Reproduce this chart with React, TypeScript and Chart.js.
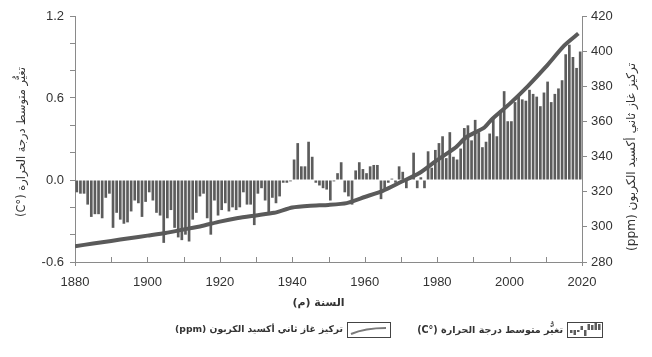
import { useEffect, useRef } from 'react';
import { Chart, registerables } from 'chart.js';

Chart.register(...registerables);

// ---------- data ----------
const firstYear = 1880;
// Global mean temperature change (°C), one value per year 1880–2019
const tempAnomaly = [
  -0.09, -0.10, -0.10, -0.18, -0.27, -0.25, -0.25, -0.28, -0.13, -0.10,
  -0.35, -0.24, -0.29, -0.32, -0.31, -0.23, -0.15, -0.17, -0.27, -0.16,
  -0.09, -0.15, -0.24, -0.26, -0.46, -0.28, -0.22, -0.35, -0.42, -0.44,
  -0.40, -0.45, -0.29, -0.24, -0.12, -0.10, -0.28, -0.40, -0.15, -0.26,
  -0.22, -0.17, -0.23, -0.20, -0.22, -0.20, -0.09, -0.18, -0.18, -0.33,
  -0.10, -0.06, -0.15, -0.24, -0.13, -0.17, -0.12, -0.02, -0.02, -0.01,
  0.15, 0.27, 0.10, 0.10, 0.28, 0.17, -0.02, -0.04, -0.06, -0.07,
  -0.15, -0.01, 0.05, 0.13, -0.09, -0.12, -0.18, 0.07, 0.13, 0.08,
  0.05, 0.10, 0.11, 0.11, -0.14, -0.07, -0.02, 0.01, -0.02, 0.10,
  0.06, -0.06, 0.02, 0.20, -0.06, 0.02, -0.06, 0.21, 0.09, 0.22,
  0.27, 0.32, 0.16, 0.35, 0.17, 0.15, 0.23, 0.38, 0.40, 0.29,
  0.44, 0.35, 0.24, 0.28, 0.34, 0.46, 0.32, 0.51, 0.65, 0.43,
  0.43, 0.57, 0.61, 0.59, 0.58, 0.66, 0.63, 0.61, 0.54, 0.64,
  0.72, 0.57, 0.63, 0.67, 0.73, 0.92, 0.99, 0.90, 0.82, 0.94,
];

// CO2 concentration (ppm)
const co2Years = [
  1880, 1885, 1890, 1895, 1900, 1905, 1910, 1915, 1920, 1925,
  1930, 1935, 1940, 1945, 1950, 1955, 1960, 1965, 1970, 1975,
  1980, 1985, 1988, 1993, 1995, 2000, 2005, 2010, 2015, 2019,
];
const co2Ppm = [
  289, 290.5, 292, 293.5, 295, 296.5, 298.5, 300.5, 303, 305,
  306.5, 308, 311, 312, 312.5, 313.5, 317, 320.5, 325.5, 330.5,
  338, 345, 351, 356.5, 361, 370, 380, 391, 403, 410,
];

const xTickYears = [1880, 1890, 1900, 1910, 1920, 1930, 1940, 1950, 1960, 1970, 1980, 1990, 2000, 2010, 2020];
const xLabelYears = [1880, 1900, 1920, 1940, 1960, 1980, 2000, 2020];
const leftLabelValues = [-0.6, 0, 0.6, 1.2];

const xTitle = 'السنة (م)';
const leftTitle = 'تغيُّر متوسط درجة الحرارة (°C)';
const rightTitle = 'تركيز غاز ثاني أكسيد الكربون (ppm)';
const legendTemp = 'تغيُّر متوسط درجة الحرارة (°C)';
const legendCo2 = 'تركيز غاز ثاني أكسيد الكربون (ppm)';

// ---------- styles ----------
const AXIS = '#8a8a8a';
const TEXT = '#333333';
const BAR = '#5c5c5c';
const LINE = '#5a5a5a';
const NUM_FONT = "'Liberation Sans', Arial, sans-serif";
const AR_FONT = "'DejaVu Sans', sans-serif";

function fitFont(ctx: CanvasRenderingContext2D, text: string, weight: string, target: number, maxSize: number) {
  ctx.font = `${weight} 20px ${AR_FONT}`;
  const w = ctx.measureText(text).width;
  const size = Math.min(maxSize, (20 * target) / w);
  ctx.font = `${weight} ${size.toFixed(2)}px ${AR_FONT}`;
}

const overlay = {
  id: 'overlay',
  afterDraw(chart: any) {
    const { ctx, chartArea, scales } = chart;
    const xs = scales.x;
    ctx.save();
    // inner x ticks
    ctx.strokeStyle = AXIS;
    ctx.lineWidth = 1;
    ctx.beginPath();
    for (const yr of xTickYears) {
      const px = Math.round(xs.getPixelForValue(yr)) + 0.5;
      if (yr === xTickYears[0] || yr === xTickYears[xTickYears.length - 1]) {
        ctx.moveTo(px, chartArea.bottom);
        ctx.lineTo(px, chartArea.bottom + 4);
      } else {
        ctx.moveTo(px, chartArea.bottom);
        ctx.lineTo(px, chartArea.bottom - 5);
      }
    }
    ctx.stroke();

    ctx.fillStyle = TEXT;
    ctx.direction = 'rtl';
    ctx.textBaseline = 'middle';
    ctx.textAlign = 'center';

    // axis titles
    fitFont(ctx, leftTitle, 'normal', 150, 14);
    ctx.save();
    ctx.translate(22, 142);
    ctx.rotate(-Math.PI / 2);
    ctx.fillText(leftTitle, 0, 0);
    ctx.restore();

    fitFont(ctx, rightTitle, 'normal', 188, 14);
    ctx.save();
    ctx.translate(632, 157);
    ctx.rotate(-Math.PI / 2);
    ctx.fillText(rightTitle, 0, 0);
    ctx.restore();

    ctx.font = `bold 11px ${AR_FONT}`;
    ctx.fillText(xTitle, (chartArea.left + chartArea.right) / 2 - 10, 303);

    // legend
    const ly = 330;
    ctx.textAlign = 'right';
    fitFont(ctx, legendTemp, 'bold', 146, 13);
    ctx.fillText(legendTemp, 563, ly);
    fitFont(ctx, legendCo2, 'bold', 168, 13);
    ctx.fillText(legendCo2, 343, ly);

    // legend icon boxes
    ctx.strokeStyle = '#444444';
    ctx.lineWidth = 1;
    ctx.strokeRect(567.5, 322.5, 35, 15);
    ctx.strokeRect(347.5, 322.5, 43, 15);

    // bar icon
    ctx.fillStyle = BAR;
    const base = 330;
    const mini = [-3, -5, -2, 4, -6, 6, 5, 7, 6];
    mini.forEach((h, i) => {
      const bx = 570 + i * 3.5;
      if (h > 0) ctx.fillRect(bx, base - h, 2.5, h);
      else ctx.fillRect(bx, base, 2.5, -h);
    });

    // line icon
    ctx.strokeStyle = '#7a7a7a';
    ctx.lineWidth = 2;
    ctx.beginPath();
    ctx.moveTo(351, 334);
    ctx.quadraticCurveTo(365, 328, 386, 328);
    ctx.stroke();

    ctx.restore();
  },
};

export default function App() {
  const ref = useRef<HTMLCanvasElement | null>(null);

  useEffect(() => {
    document.body.style.margin = '0';
    const canvas = ref.current;
    if (!canvas) return;

    const barData = tempAnomaly.map((v, i) => ({ x: firstYear + i + 0.5, y: v }));
    const lineData = co2Years.map((yr, i) => ({ x: yr, y: co2Ppm[i] }));

    const chart = new Chart(canvas, {
      type: 'bar',
      data: {
        datasets: [
          {
            type: 'line',
            data: lineData,
            yAxisID: 'y2',
            xAxisID: 'x',
            borderColor: LINE,
            borderWidth: 4,
            pointRadius: 0,
            tension: 0.2,
            order: 0,
          } as any,
          {
            type: 'bar',
            data: barData,
            yAxisID: 'y',
            xAxisID: 'x',
            backgroundColor: BAR,
            categoryPercentage: 1,
            barPercentage: 0.74,
            order: 1,
          } as any,
        ],
      },
      options: {
        animation: false,
        responsive: false,
        layout: { padding: { top: 16, left: 0, right: 0, bottom: 0 } },
        plugins: { legend: { display: false }, tooltip: { enabled: false } },
        scales: {
          x: {
            type: 'linear',
            min: 1880,
            max: 2020,
            offset: false,
            grid: { display: false, drawTicks: false, tickLength: 0 },
            border: { display: true, color: AXIS, width: 1 },
            ticks: {
              stepSize: 10,
              autoSkip: false,
              maxRotation: 0,
              padding: 13,
              color: TEXT,
              font: { family: NUM_FONT, size: 13 },
              callback: (v: any) => (xLabelYears.includes(Number(v)) ? String(v) : ''),
            },
            afterFit: (s: any) => { s.height = 95; },
          },
          y: {
            position: 'left',
            min: -0.6,
            max: 1.2,
            grid: { display: true, drawOnChartArea: false, drawTicks: true, tickLength: 5, color: AXIS },
            border: { display: true, color: AXIS, width: 1 },
            ticks: {
              stepSize: 0.2,
              autoSkip: false,
              padding: 6,
              color: TEXT,
              font: { family: NUM_FONT, size: 13 },
              callback: (v: any) => {
                const n = Number(v);
                const hit = leftLabelValues.find((t) => Math.abs(t - n) < 1e-6);
                return hit === undefined ? '' : hit.toFixed(1);
              },
            },
            afterFit: (s: any) => { s.width = 75; },
          },
          y2: {
            position: 'right',
            min: 280,
            max: 420,
            grid: { display: true, drawOnChartArea: false, drawTicks: true, tickLength: 5, color: AXIS },
            border: { display: true, color: AXIS, width: 1 },
            ticks: {
              stepSize: 20,
              autoSkip: false,
              padding: 4,
              color: TEXT,
              font: { family: NUM_FONT, size: 13 },
            },
            afterFit: (s: any) => { s.width = 70; },
          },
        },
      },
      plugins: [overlay],
    });

    return () => chart.destroy();
  }, []);

  return (
    <div style={{ width: 652, height: 357, background: '#ffffff' }}>
      <canvas ref={ref} width={652} height={357} style={{ display: 'block' }} />
    </div>
  );
}
